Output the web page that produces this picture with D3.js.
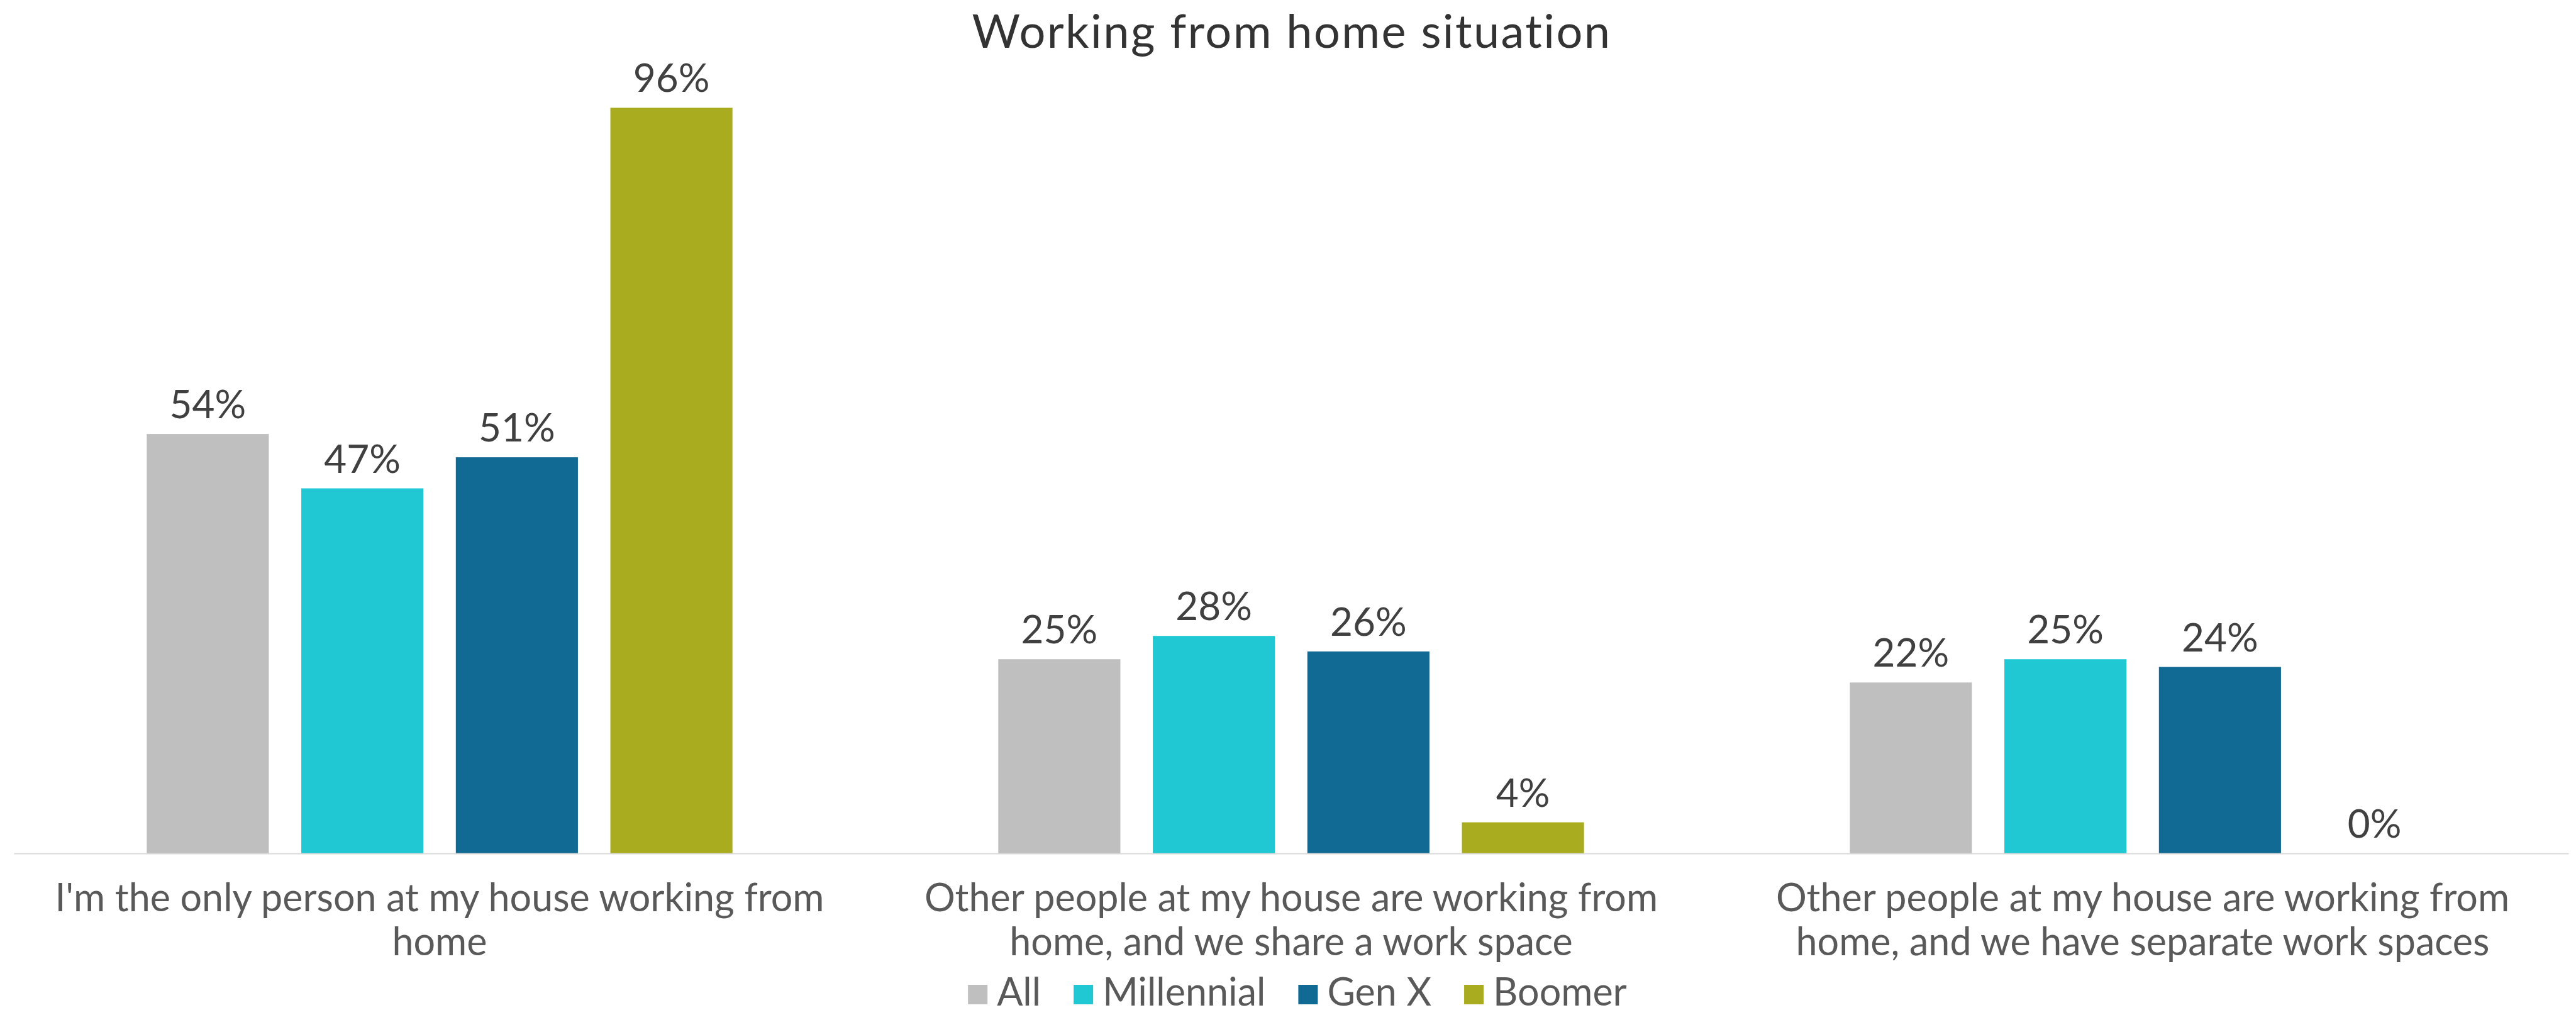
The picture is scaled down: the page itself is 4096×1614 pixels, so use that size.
<!DOCTYPE html>
<html>
<head>
<meta charset="utf-8">
<script src="https://cdn.jsdelivr.net/npm/d3@7"></script>
<style>
  html, body { margin: 0; padding: 0; background: #ffffff; }
  svg { display: block; }
  text { font-family: "Lato", "Noto Sans", sans-serif; }
</style>
</head>
<body>
<svg id="chart" width="4096" height="1614"></svg>
<script>
// ---- data ----
const title = "Working from home situation";
const categories = [
  "I'm the only person at my house working from home",
  "Other people at my house are working from home, and we share a work space",
  "Other people at my house are working from home, and we have separate work spaces"
];
const seriesNames = ["All", "Millennial", "Gen X", "Boomer"];
const allValues        = [54, 25, 22];
const millennialValues = [47, 28, 25];
const genXValues       = [51, 26, 24];
const boomerValues     = [96, 4, 0];
const seriesColors = ["#BFBFBF", "#1FC8D3", "#116A94", "#A9AC1F"];

const seriesValues = [allValues, millennialValues, genXValues, boomerValues];
const rows = categories.map((c, i) => ({
  category: c,
  values: seriesNames.map((s, j) => ({ series: s, value: seriesValues[j][i], color: seriesColors[j] }))
}));

// ---- layout ----
const W = 4096, H = 1614;
const plot = { left: 22, right: 4084, baseline: 1357, top: 122 };

const svg = d3.select("#chart");

const x0 = d3.scaleBand()
  .domain(categories)
  .range([plot.left, plot.right])
  .padding(0);

const x1 = d3.scaleBand()
  .domain(seriesNames)
  .range([0, x0.bandwidth()])
  .paddingInner(0.21)
  .paddingOuter(0.86);

const y = d3.scaleLinear()
  .domain([0, 100])
  .range([plot.baseline, plot.top]);

// title
svg.append("text")
  .attr("x", W / 2 + 6)
  .attr("y", 76)
  .attr("text-anchor", "middle")
  .attr("font-size", 74)
  .attr("letter-spacing", 2.4)
  .attr("fill", "#333333")
  .text(title);

// bars
const groups = svg.append("g").selectAll("g")
  .data(rows)
  .join("g")
  .attr("transform", d => `translate(${x0(d.category)},0)`);

groups.selectAll("rect")
  .data(d => d.values)
  .join("rect")
  .attr("x", d => x1(d.series))
  .attr("width", x1.bandwidth())
  .attr("y", d => y(d.value))
  .attr("height", d => y(0) - y(d.value))
  .attr("fill", d => d.color);

// value labels
groups.selectAll("text.value")
  .data(d => d.values)
  .join("text")
  .attr("class", "value")
  .attr("x", d => x1(d.series) + x1.bandwidth() / 2)
  .attr("y", d => y(d.value) - 25)
  .attr("text-anchor", "middle")
  .attr("font-size", 62)
  .attr("fill", "#404040")
  .text(d => d.value + "%");

// category axis along the baseline
const axis = svg.append("g")
  .attr("transform", `translate(0,${plot.baseline})`)
  .call(d3.axisBottom(x0).tickSize(0).tickSizeOuter(0));

axis.select(".domain")
  .attr("stroke", "#D9D9D9")
  .attr("stroke-width", 2);

const catFont = 61, lineGap = 69.5, maxLine = 1300;
axis.selectAll(".tick text")
  .attr("font-family", "Lato, 'Noto Sans', sans-serif")
  .attr("font-size", catFont)
  .attr("fill", "#595959")
  .attr("y", 0)
  .attr("dy", null)
  .each(function (d) {
    const t = d3.select(this);
    const words = d.split(" ");
    t.text(null);
    let line = [];
    let lineNo = 0;
    let tspan = t.append("tspan").attr("x", 0).attr("y", 92);
    for (const w of words) {
      line.push(w);
      tspan.text(line.join(" "));
      if (tspan.node().getComputedTextLength() > maxLine && line.length > 1) {
        line.pop();
        tspan.text(line.join(" "));
        line = [w];
        lineNo += 1;
        tspan = t.append("tspan").attr("x", 0).attr("y", 92 + lineNo * lineGap).text(w);
      }
    }
  });

// legend
const legendFont = 61, sw = 31, swGap = 15, itemGap = 52, legendBaseline = 1599;
const legend = svg.append("g");
const items = legend.selectAll("g")
  .data(seriesNames.map((s, i) => ({ name: s, color: seriesColors[i] })))
  .join("g");
items.append("rect")
  .attr("width", sw).attr("height", sw)
  .attr("y", legendBaseline - sw - 2)
  .attr("fill", d => d.color);
items.append("text")
  .attr("x", sw + swGap)
  .attr("y", legendBaseline)
  .attr("font-size", legendFont)
  .attr("fill", "#595959")
  .text(d => d.name);

let cursor = 0;
const offsets = [];
items.each(function () {
  const w = sw + swGap + d3.select(this).select("text").node().getComputedTextLength();
  offsets.push(cursor);
  cursor += w + itemGap;
});
const legendWidth = cursor - itemGap;
const legendLeft = 2063 - legendWidth / 2;
items.attr("transform", (d, i) => `translate(${legendLeft + offsets[i]},0)`);
</script>
</body>
</html>
